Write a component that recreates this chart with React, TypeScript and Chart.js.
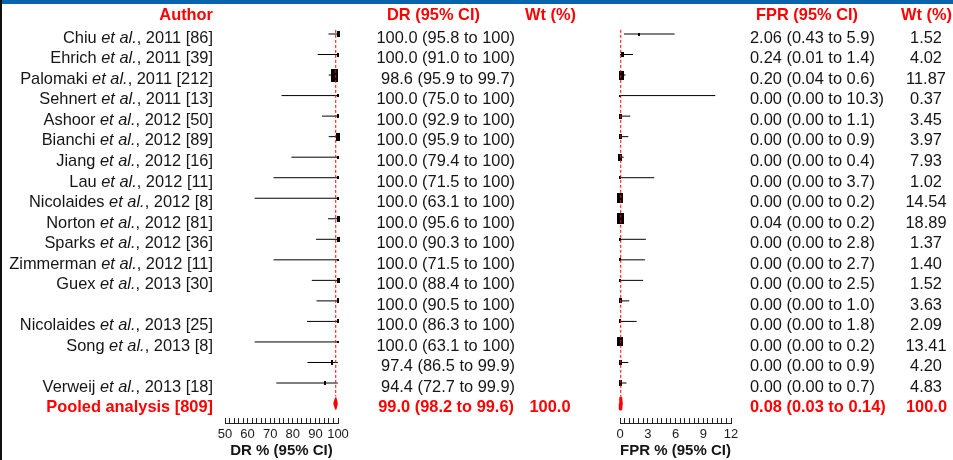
import React, { useEffect, useRef } from 'react';
import { Chart, registerables } from 'chart.js';

Chart.register(...registerables);

// ---------------- data ----------------
const authorNames = ['Chiu', 'Ehrich', 'Palomaki', 'Sehnert', 'Ashoor', 'Bianchi', 'Jiang', 'Lau', 'Nicolaides', 'Norton', 'Sparks', 'Zimmerman', 'Guex', '', 'Nicolaides', 'Song', '', 'Verweij'];
const studyYears = ['2011', '2011', '2011', '2011', '2012', '2012', '2012', '2012', '2012', '2012', '2012', '2012', '2013', '', '2013', '2013', '', '2013'];
const studyN = ['86', '39', '212', '13', '50', '89', '16', '11', '8', '81', '36', '11', '30', '', '25', '8', '', '18'];

const drEst = [100, 100, 98.6, 100, 100, 100, 100, 100, 100, 100, 100, 100, 100, 100, 100, 100, 97.4, 94.4];
const drLo = [95.8, 91.0, 95.9, 75.0, 92.9, 95.9, 79.4, 71.5, 63.1, 95.6, 90.3, 71.5, 88.4, 90.5, 86.3, 63.1, 86.5, 72.7];
const drHi = [100, 100, 99.7, 100, 100, 100, 100, 100, 100, 100, 100, 100, 100, 100, 100, 100, 99.9, 99.9];
// DR weights are not printed
const drWt = [7.9, 3.0, 31.8, 1.5, 3.8, 13.6, 1.7, 1.4, 1.5, 7.1, 5.1, 1.2, 4.7, 4.4, 3.0, 1.2, 4.1, 3.0];

const fprEst = [2.06, 0.24, 0.20, 0, 0, 0, 0, 0, 0, 0.04, 0, 0, 0, 0, 0, 0, 0, 0];
const fprLo = [0.43, 0.01, 0.04, 0, 0, 0, 0, 0, 0, 0, 0, 0, 0, 0, 0, 0, 0, 0];
const fprHi = [5.9, 1.4, 0.6, 10.3, 1.1, 0.9, 0.4, 3.7, 0.2, 0.2, 2.8, 2.7, 2.5, 1.0, 1.8, 0.2, 0.9, 0.7];
const fprWt = [1.52, 4.02, 11.87, 0.37, 3.45, 3.97, 7.93, 1.02, 14.54, 18.89, 1.37, 1.40, 1.52, 3.63, 2.09, 13.41, 4.20, 4.83];

const pooledLabel = 'Pooled analysis [809]';
const drPooled = [99.0, 98.2, 99.6];
const fprPooled = [0.08, 0.03, 0.14];
const pooledWt = '100.0';

const drTickLabels = [50, 60, 70, 80, 90, 100];
const fprTickLabels = [0, 3, 6, 9, 12];

// ---------------- layout / style ----------------
const W = 953;
const H = 460;
const FONT = '"Liberation Sans", Arial, Helvetica, sans-serif';
const FS = 16.4;
const RED = '#ff0000';
const INK = '#151515';
const ROW0 = 34;
const ROWH = 20.53;
const AREA_TOP = 24;
const AREA_BOTTOM = 423;
const Y_MIN = -(ROW0 - AREA_TOP) / ROWH;
const Y_MAX = Y_MIN + (AREA_BOTTOM - AREA_TOP) / ROWH;
const TEXT_DY = 8.8;
const HEADER_Y = 20;
const LINE_TOP = -0.2;
const LINE_BOTTOM = 17.65;
const DIAMOND_H = 0.27;

function box(w: number, h: number): HTMLCanvasElement {
  const c = document.createElement('canvas');
  c.width = Math.max(2, Math.round(w));
  c.height = Math.max(2, Math.round(h));
  const g = c.getContext('2d')!;
  g.fillStyle = '#000';
  g.fillRect(0, 0, c.width, c.height);
  return c;
}

function buildDatasets(est: number[], lo: number[], hi: number[], wt: number[], areaPerWt: number, aspect: number, pooled: number[], diamondBorder: number) {
  const ds: any[] = [];
  ds.push({
    data: [{ x: pooled[0], y: LINE_TOP }, { x: pooled[0], y: LINE_BOTTOM }],
    showLine: true, borderColor: RED, borderWidth: 1, borderDash: [3, 2], pointRadius: 0, clip: false,
  });
  est.forEach((_, i) => {
    ds.push({
      data: [{ x: lo[i], y: i }, { x: hi[i], y: i }],
      showLine: true, borderColor: '#000', borderWidth: 1, pointRadius: 0, clip: false,
    });
  });
  ds.push({
    data: est.map((v, i) => ({ x: v, y: i })),
    showLine: false,
    pointStyle: wt.map((v) => {
      const a = v * areaPerWt;
      const w = Math.sqrt(a / aspect);
      return box(w, w * aspect);
    }),
    pointRadius: 3,
    clip: false,
  });
  const r = est.length;
  ds.push({
    data: [
      { x: pooled[1], y: r }, { x: pooled[0], y: r - DIAMOND_H }, { x: pooled[2], y: r },
      { x: pooled[0], y: r + DIAMOND_H }, { x: pooled[1], y: r },
    ],
    showLine: true, fill: 'shape', backgroundColor: RED, borderColor: RED, borderWidth: diamondBorder,
    borderJoinStyle: 'round', pointRadius: 0, clip: false,
  });
  return ds;
}

function text(ctx: CanvasRenderingContext2D, s: string, x: number, y: number, align: CanvasTextAlign, bold = false, color = INK) {
  ctx.font = `${bold ? 'bold ' : ''}${FS}px ${FONT}`;
  ctx.fillStyle = color;
  ctx.textAlign = align;
  ctx.textBaseline = 'alphabetic';
  ctx.fillText(s, x, y);
}

function author(ctx: CanvasRenderingContext2D, i: number, xRight: number, y: number) {
  const pre = authorNames[i] + ' ';
  const it = 'et al.';
  const post = `, ${studyYears[i]} [${studyN[i]}]`;
  ctx.font = `${FS}px ${FONT}`;
  const wPre = ctx.measureText(pre).width;
  const wPost = ctx.measureText(post).width;
  ctx.font = `italic ${FS}px ${FONT}`;
  const wIt = ctx.measureText(it).width;
  let x = xRight - wPre - wIt - wPost;
  ctx.fillStyle = INK;
  ctx.textAlign = 'left';
  ctx.textBaseline = 'alphabetic';
  ctx.font = `${FS}px ${FONT}`;
  ctx.fillText(pre, x, y);
  x += wPre;
  ctx.font = `italic ${FS}px ${FONT}`;
  ctx.fillText(it, x, y);
  x += wIt;
  ctx.font = `${FS}px ${FONT}`;
  ctx.fillText(post, x, y);
}

const fmtDR = (e: number, l: number, h: number) => `${e.toFixed(1)} (${l.toFixed(1)} to ${h === 100 ? '100' : h.toFixed(1)})`;
const fmtFPR = (e: number, l: number, h: number, hd = 1) => `${e.toFixed(2)} (${l.toFixed(2)} to ${h.toFixed(hd)})`;

function drawDRText(chart: any) {
  const ctx: CanvasRenderingContext2D = chart.ctx;
  const ys = chart.scales.y;
  ctx.save();
  text(ctx, 'Author', 213, HEADER_Y, 'right', true, RED);
  text(ctx, 'DR (95% CI)', 387, HEADER_Y, 'left', true, RED);
  text(ctx, 'Wt (%)', 525, HEADER_Y, 'left', true, RED);
  drEst.forEach((_, i) => {
    const y = ys.getPixelForValue(i) + TEXT_DY;
    if (authorNames[i]) author(ctx, i, 213, y);
    text(ctx, fmtDR(drEst[i], drLo[i], drHi[i]), 515, y, 'right');
  });
  const yp = ys.getPixelForValue(drEst.length) + TEXT_DY;
  text(ctx, pooledLabel, 213, yp, 'right', true, RED);
  text(ctx, fmtDR(drPooled[0], drPooled[1], drPooled[2]), 514, yp, 'right', true, RED);
  text(ctx, pooledWt, 550, yp, 'center', true, RED);
  ctx.restore();
}

function drawFPRText(chart: any) {
  const ctx: CanvasRenderingContext2D = chart.ctx;
  const ys = chart.scales.y;
  ctx.save();
  text(ctx, 'FPR (95% CI)', 756, HEADER_Y, 'left', true, RED);
  text(ctx, 'Wt (%)', 901, HEADER_Y, 'left', true, RED);
  fprEst.forEach((_, i) => {
    const y = ys.getPixelForValue(i) + TEXT_DY;
    text(ctx, fmtFPR(fprEst[i], fprLo[i], fprHi[i]), 750, y, 'left');
    text(ctx, fprWt[i].toFixed(2), 926, y, 'center');
  });
  const yp = ys.getPixelForValue(fprEst.length) + TEXT_DY;
  text(ctx, fmtFPR(fprPooled[0], fprPooled[1], fprPooled[2], 2), 750, yp, 'left', true, RED);
  text(ctx, pooledWt, 947, yp, 'right', true, RED);
  ctx.restore();
}

function panelConfig(p: {
  left: number; right: number; min: number; max: number; step: number; labels: number[]; title: string;
  datasets: any[]; draw: (c: any) => void;
}): any {
  return {
    type: 'scatter',
    data: { datasets: p.datasets },
    options: {
      responsive: false,
      animation: false,
      events: [],
      layout: { padding: { left: p.left, right: p.right, top: AREA_TOP, bottom: 0 } },
      plugins: { legend: { display: false }, tooltip: { enabled: false } },
      scales: {
        x: {
          type: 'linear', position: 'bottom', min: p.min, max: p.max,
          afterFit: (s: any) => { s.height = H - AREA_BOTTOM; },
          ticks: {
            stepSize: p.step, autoSkip: false, maxRotation: 0, minRotation: 0, padding: 9,
            color: '#1a1a1a', font: { family: FONT, size: 13 },
            callback: (v: any) => (p.labels.includes(Number(v)) ? String(v) : ''),
          },
          grid: { display: true, drawOnChartArea: false, drawTicks: true, tickLength: -5, color: '#222', lineWidth: 1 },
          border: { display: true, color: '#222', width: 1 },
          title: {
            display: true, text: p.title, color: INK,
            font: { family: FONT, size: 15, weight: 'bold' }, padding: { top: 0, bottom: 0 },
          },
        },
        y: { type: 'linear', reverse: true, min: Y_MIN, max: Y_MAX, display: false },
      },
    },
    plugins: [{ id: 'forestText' + p.title.length, afterDraw: (c: any) => p.draw(c) }],
  };
}

export default function App() {
  const drRef = useRef<HTMLCanvasElement>(null);
  const fprRef = useRef<HTMLCanvasElement>(null);

  useEffect(() => {
    const c1 = new Chart(drRef.current!, panelConfig({
      left: 225, right: W - 338, min: 50, max: 100, step: 2, labels: drTickLabels,
      title: 'DR % (95% CI)',
      datasets: buildDatasets(drEst, drLo, drHi, drWt, 2.64, 1.9, drPooled, 1.5),
      draw: drawDRText,
    }));
    const c2 = new Chart(fprRef.current!, panelConfig({
      left: 620, right: W - 731, min: 0, max: 12, step: 0.5, labels: fprTickLabels,
      title: 'FPR % (95% CI)',
      datasets: buildDatasets(fprEst, fprLo, fprHi, fprWt, 4.0, 1.6, fprPooled, 3),
      draw: drawFPRText,
    }));
    return () => { c1.destroy(); c2.destroy(); };
  }, []);

  return (
    <div style={{ position: 'fixed', left: 0, top: 0, width: W, height: H, background: '#fff', overflow: 'hidden' }}>
      <canvas ref={drRef} width={W} height={H} style={{ position: 'absolute', left: 0, top: 0 }} />
      <canvas ref={fprRef} width={W} height={H} style={{ position: 'absolute', left: 0, top: 0 }} />
      <div style={{ position: 'absolute', left: 0, top: 0, width: W, height: 4, background: '#0865ad' }} />
      <div style={{ position: 'absolute', left: 0, top: 0, width: 2, height: H, background: '#111' }} />
    </div>
  );
}
